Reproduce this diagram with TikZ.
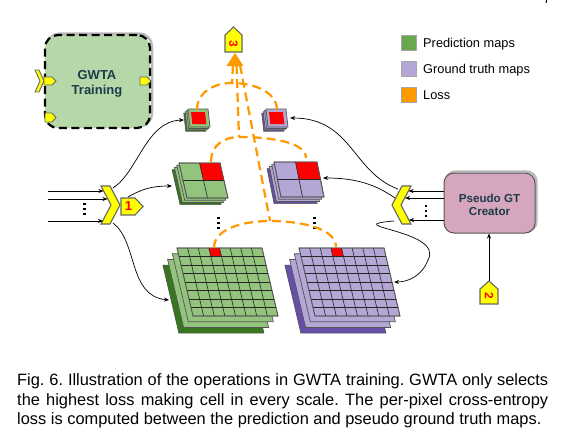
\documentclass[tikz,border=0pt]{standalone}
\usepackage{fontspec}
\setmainfont{Liberation Sans}
\usetikzlibrary{arrows.meta}
\frenchspacing
\definecolor{glight}{HTML}{93C47D}
\definecolor{gdark}{HTML}{38761D}
\definecolor{plight}{HTML}{B4A7D6}
\definecolor{pdark}{HTML}{674EA7}
\definecolor{lossc}{HTML}{FF9900}
\definecolor{legg}{HTML}{6AA84F}
\definecolor{boxg}{HTML}{B6D7A8}
\definecolor{boxp}{HTML}{D5A6BD}
\definecolor{txtc}{HTML}{1D3B4B}
\definecolor{edgec}{HTML}{555555}
\definecolor{yel}{HTML}{FFFF00}
\definecolor{redc}{HTML}{FF0000}

\newcommand\para[6]{\filldraw[#6] ({#1},{#2}) -- ++({#3},0) -- ++({#5},{#4}) -- ++({-(#3)},0) -- cycle;}
\def\rc{3}
% x0 y0 w h slant n dx dy kind
\newcommand\mapstack[9]{%
 \para{#1+3*(#7)}{#2+3*(#8)}{#3}{#4}{#5}{fill=#9dark,mapedge}
 \para{#1+2*(#7)}{#2+2*(#8)}{#3}{#4}{#5}{fill=#9light,mapedge}
 \para{#1+(#7)}{#2+(#8)}{#3}{#4}{#5}{fill=#9light,mapedge}
 \para{#1}{#2}{#3}{#4}{#5}{fill=#9light,mapedge}
 \fill[redc] ({#1+\rc*(#3)/(#6)},{#2}) -- ++({(#3)/(#6)},0) -- ++({(#5)/(#6)},{(#4)/(#6)}) -- ++({-(#3)/(#6)},0) -- cycle;
 \pgfmathtruncatemacro\nm{#6-1}
 \foreach \i in {1,...,\nm}{
   \draw[gridc] ({#1+\i*(#3)/(#6)},{#2}) -- ++({#5},{#4});
   \draw[gridc] ({#1+\i*(#5)/(#6)},{#2+\i*(#4)/(#6)}) -- ++({#3},0);
 }
 \para{#1}{#2}{#3}{#4}{#5}{mapedge,fill=none}
}
% x0 y0 w h slant kind
\newcommand\smallmap[6]{%
 \para{#1-4.2}{#2+4.2}{#3}{#4}{#5}{fill=#6dark,mapedge}
 \para{#1-2.8}{#2+2.8}{#3}{#4}{#5}{fill=#6light,mapedge}
 \para{#1-1.4}{#2+1.4}{#3}{#4}{#5}{fill=#6light,mapedge}
 \para{#1}{#2}{#3}{#4}{#5}{fill=#6light,mapedge}
 \para{#1+3}{#2+3}{#3-6}{#4-6}{#5*(#4-6)/(#4)}{fill=redc,draw=none}
}
\newcommand\vdts[2]{\foreach \d in {0,5,10}{\fill (#1-1.2,#2+\d-1.2) rectangle ++(2.4,2.4);}}

\tikzset{
 conn/.style={line width=0.7pt, -{Stealth[length=5pt,width=4pt]}},
 loss/.style={draw=lossc, line width=2.2pt, dash pattern=on 9pt off 5pt},
 yshape/.style={fill=yel, draw=gray!80!black, line width=1.1pt},
 gridc/.style={draw=black!85, line width=0.6pt},
 mapedge/.style={draw=edgec, line width=0.7pt},
 boldtxt/.style={font=\bfseries\fontsize{13}{15}\selectfont, text=txtc, align=center},
 legbox/.style={minimum size=15.5pt, inner sep=0pt, draw=gray!70, line width=0.8pt},
 legtxt/.style={font=\fontsize{12.8}{14}\selectfont, anchor=base west, inner sep=0pt},
 captxt/.style={font=\fontsize{16.4}{19.5}\selectfont, anchor=base west, inner sep=0pt},
 numtxt/.style={font=\bfseries\fontsize{12}{12}\selectfont, text=redc, inner sep=0pt},
}

\begin{document}
\begin{tikzpicture}[x=1pt,y=-1pt]
\useasboundingbox (0,0) rectangle (565,445);
\clip (0,0) rectangle (565,445);
\fill[white] (0,0) rectangle (565,445);

% page number (cut off, as in the reference)
\node[font=\fontsize{13}{13}\selectfont, anchor=base, inner sep=0pt] (pagenum) at (547,3) {7};

% ---------- GWTA training box
\node[draw=gray!55, line width=2.5pt, rounded corners=13pt, minimum width=105pt, minimum height=93pt, inner sep=0pt] (gwtashadow) at (99.5,80) {};
\node[fill=boxg, draw=black, line width=2.2pt, dash pattern=on 8pt off 4.5pt, rounded corners=13pt, minimum width=105pt, minimum height=93pt, inner sep=0pt] (gwtabox) at (97.5,81.5) {};
\node[boldtxt] (gwtatxt) at (97,84) {GWTA\\Training};
\filldraw[yshape, line width=0.9pt] (35,70) -- (39,70) -- (44,81) -- (39,92) -- (35,92) -- (40,81) -- cycle;
\filldraw[yshape, line width=0.9pt] (44,77) -- (52,77) -- (56,81) -- (52,85) -- (44,85) -- cycle;
\filldraw[yshape, line width=0.9pt] (140,77) -- (147,77) -- (151,81) -- (147,85) -- (140,85) -- cycle;
\filldraw[yshape, line width=0.9pt] (45,113) -- (52,113) -- (56,117.5) -- (52,122) -- (45,122) -- cycle;

% ---------- legend
\node[legbox, fill=legg] (leg1) at (409,43) {};
\node[legbox, fill=plight] (leg2) at (409,69) {};
\node[legbox, fill=lossc] (leg3) at (409,95) {};
\node[legtxt] (legt1) at (423,47.5) {Prediction maps};
\node[legtxt] (legt2) at (423,73.5) {Ground truth maps};
\node[legtxt] (legt3) at (423,99.5) {Loss};

% ---------- maps
\smallmap{188}{109}{20}{18}{2}{g}
\smallmap{266}{109}{20}{18}{2}{p}
\def\rc{1}
\mapstack{179}{163}{41}{35}{8}{2}{-2.3}{2.2}{g}
\mapstack{274}{162}{43}{35}{7}{2}{-2.3}{2.2}{p}
\def\rc{3}
\mapstack{177}{248}{85}{68}{16}{8}{-4.7}{5.7}{g}
\mapstack{299}{248}{85}{68}{16}{8}{-4.7}{5.7}{p}

\vdts{218.3}{218}
\vdts{314.5}{218}

% ---------- loss (orange)
\coordinate (sgR) at (197,110);
\coordinate (spR) at (277,110);
\coordinate (sApex) at (232,83);
\coordinate (mgR) at (211,162);
\coordinate (mpR) at (306,158);
\coordinate (mApex) at (239,137);
\coordinate (lgR) at (214,248);
\coordinate (lpR) at (336,247);
\coordinate (lApex) at (270,221);
\coordinate (ab1) at (233,65);
\coordinate (ab2) at (236.5,65);
\coordinate (ab3) at (240,65);
\draw[loss] (sgR) .. controls (197,92) and (214,83) .. (sApex) .. controls (254,83) and (277,92) .. (spR);
\draw[loss] (mgR) .. controls (211,145) and (224,137) .. (mApex) .. controls (270,137) and (306,142) .. (mpR);
\draw[loss] (lgR) .. controls (214,228) and (245,221) .. (lApex) .. controls (300,221) and (336,228) .. (lpR);
\draw[loss] (ab1) -- (sApex);
\draw[loss] (ab2) -- (mApex);
\draw[loss] (ab3) -- (lApex);
\fill[lossc] (235,53) -- (243.5,66) -- (226.5,66) -- cycle;

% ---------- pentagon 3
\filldraw[yshape] (225,35) -- (233.5,27) -- (242,35) -- (242,52) -- (225,52) -- cycle;
\node[numtxt, rotate=-90] (n3) at (233.5,44) {3};

% ---------- left chevron and inputs
\filldraw[yshape] (101,186) -- (110,186) -- (120,205) -- (110,224) -- (101,224) -- (111,205) -- cycle;
\filldraw[yshape] (121,198) -- (135,198) -- (143,206.5) -- (135,215) -- (121,215) -- cycle;
\node[numtxt, font=\bfseries\fontsize{13}{13}\selectfont] (n1) at (128.5,206.5) {1};
\coordinate (li1) at (48,191); \coordinate (le1) at (103.5,191);
\coordinate (li2) at (48,199); \coordinate (le2) at (107.5,199);
\coordinate (li3) at (48,221); \coordinate (le3) at (103,221);
\draw[conn] (li1) -- (le1);
\draw[conn] (li2) -- (le2);
\draw[conn] (li3) -- (le3);
\vdts{84.3}{204}

\coordinate (lo1) at (113,188);
\coordinate (lo2) at (128,197);
\coordinate (lo3) at (113,223);
\coordinate (sgIn) at (184,120);
\coordinate (mgIn) at (172,186);
\coordinate (lgIn) at (169,300);
\draw[conn] (lo1) .. controls (138,172) and (146,121) .. (sgIn);
\draw[conn] (lo2) .. controls (142,189) and (152,186) .. (mgIn);
\draw[conn] (lo3) .. controls (138,242) and (128,296) .. (lgIn);

% ---------- right chevron, Pseudo GT
\node[draw=gray!55, line width=2.2pt, rounded corners=10pt, minimum width=91pt, minimum height=60pt, inner sep=0pt] (pshadow) at (491,201.5) {};
\node[fill=boxp, draw=edgec, line width=1pt, rounded corners=10pt, minimum width=91pt, minimum height=60pt, inner sep=0pt] (pseudo) at (489.5,203) {};
\node[boldtxt, font=\bfseries\fontsize{11.6}{13}\selectfont] (pseudotxt) at (489.5,205) {Pseudo GT\\Creator};

\filldraw[yshape] (411,186) -- (402,186) -- (392,205) -- (402,224) -- (411,224) -- (401,205) -- cycle;
\coordinate (ri1) at (pseudo.west |- 0,191); \coordinate (re1) at (408.5,191);
\coordinate (ri2) at (pseudo.west |- 0,198); \coordinate (re2) at (405,198);
\coordinate (ri3) at (pseudo.west |- 0,220); \coordinate (re3) at (409,220);
\draw[conn] (ri1) -- (re1);
\draw[conn] (ri2) -- (re2);
\draw[conn] (ri3) -- (re3);
\vdts{426}{206}

\coordinate (ro1) at (398,189);
\coordinate (ro2) at (395,198);
\coordinate (ro3) at (394,221);
\coordinate (spIn) at (290,118);
\coordinate (mpIn) at (323,178);
\coordinate (lpIn) at (394,282);
\draw[conn] (ro1) .. controls (352,172) and (352,118) .. (spIn);
\draw[conn] (ro2) .. controls (375,184) and (355,178) .. (mpIn);
\draw[conn] (ro3) .. controls (335,226) and (445,230) .. (428,260) .. controls (422,276) and (408,282) .. (lpIn);

% ---------- pentagon 2
\filldraw[yshape] (480,289) -- (489,281) -- (498,289) -- (498,304) -- (480,304) -- cycle;
\node[numtxt, rotate=-90] (n2) at (489,296) {2};
\coordinate (p2top) at (489,281);
\draw[conn] (p2top) -- (p2top |- pseudo.south);

% ---------- caption
\node[captxt] (cap1) at (17,385) {\hbox to 531pt{Fig. 6. Illustration of the operations in GWTA training. GWTA only selects}};
\node[captxt] (cap2) at (17,405) {\hbox to 531pt{the highest loss making cell in every scale. The per-pixel cross-entropy}};
\node[captxt] (cap3) at (17,424.5) {loss is computed between the prediction and pseudo ground truth maps.};
\end{tikzpicture}
\end{document}
